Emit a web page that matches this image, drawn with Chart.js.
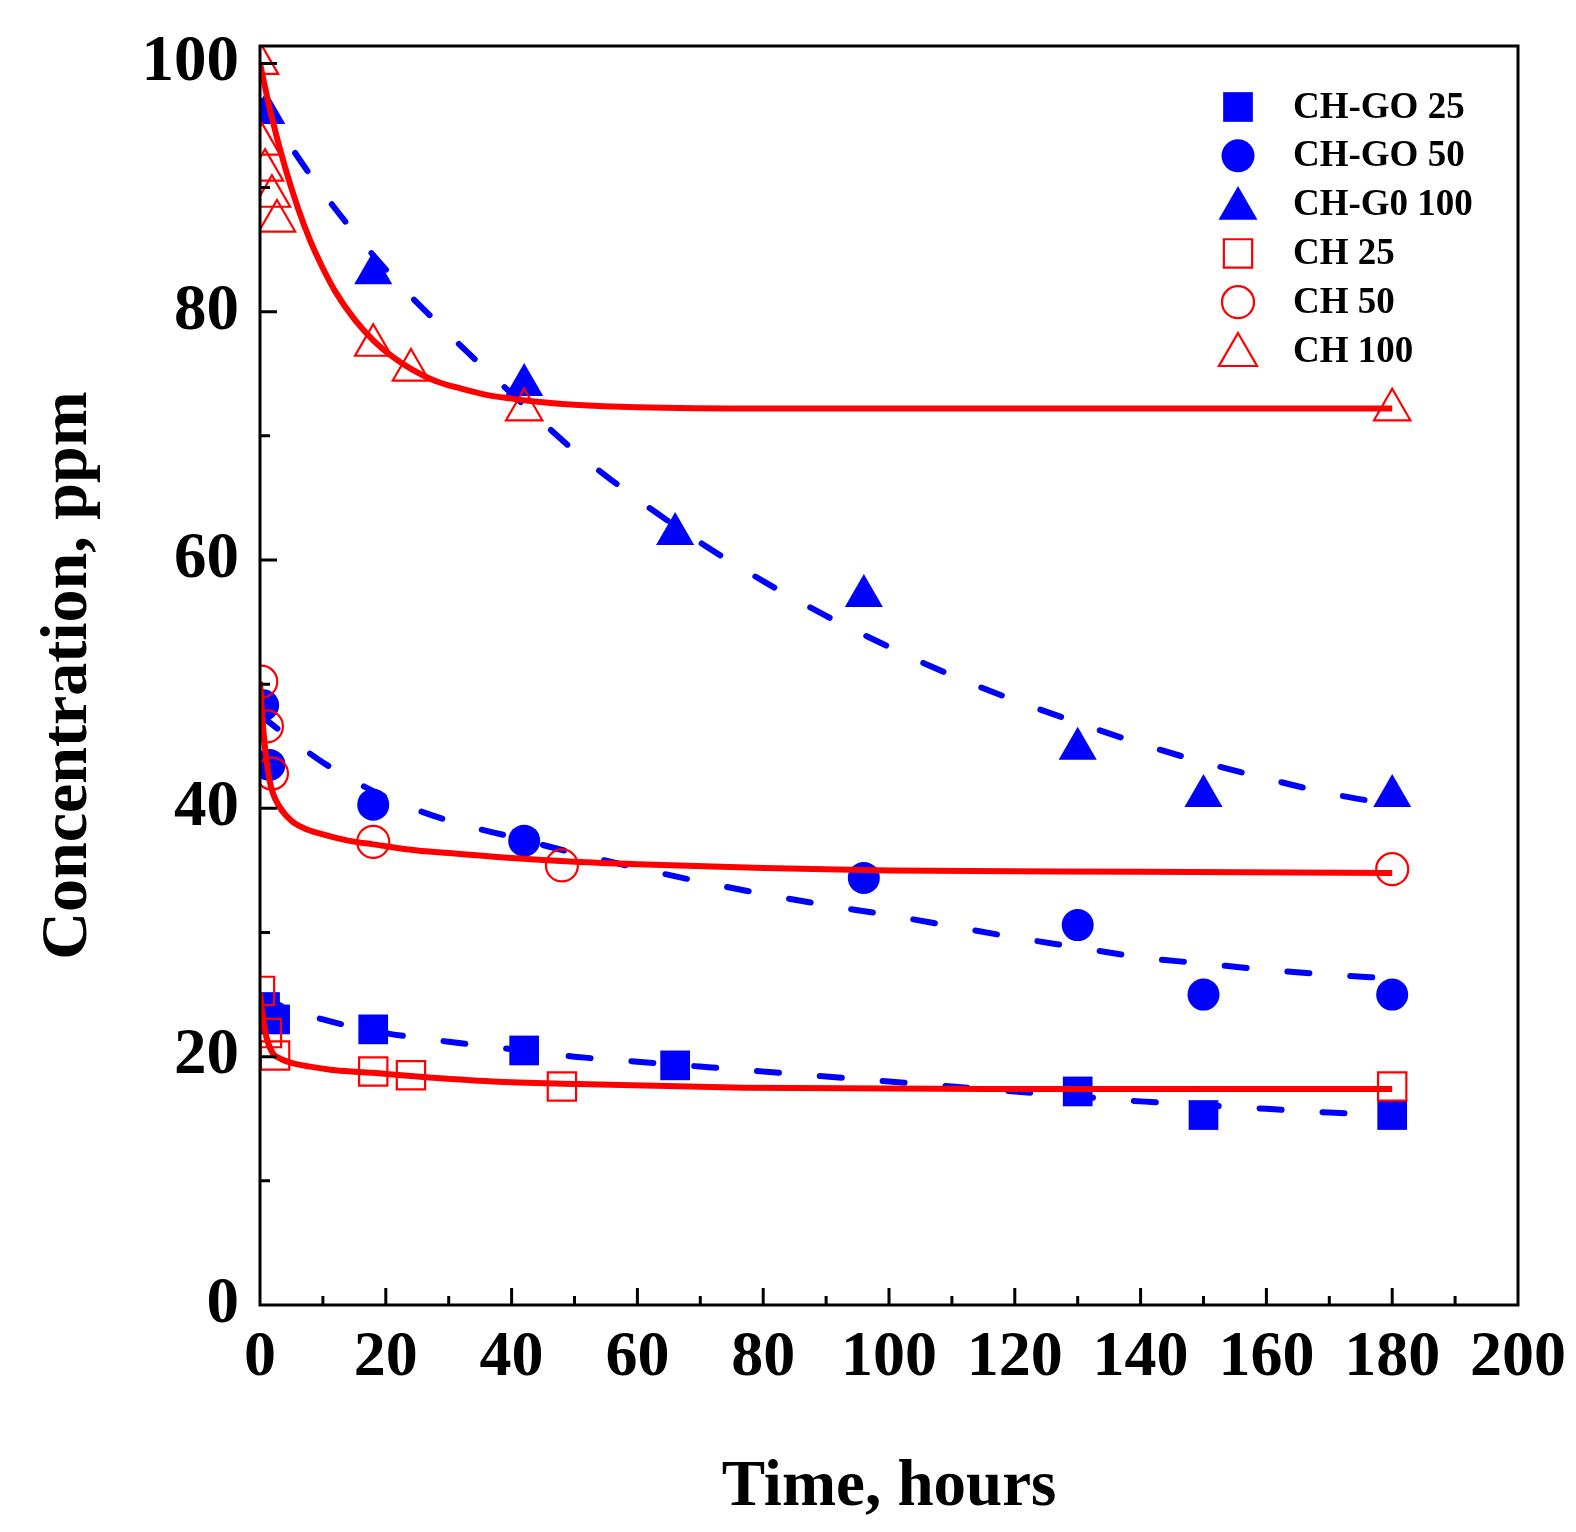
<!DOCTYPE html>
<html><head><meta charset="utf-8">
<script src="https://cdn.jsdelivr.net/npm/chart.js@4.4.1/dist/chart.umd.min.js"></script>
<style>html,body{margin:0;padding:0;background:#fff;}canvas{display:block;}</style>
</head><body>
<canvas id="c" width="1576" height="1532" style="width:1576px;height:1532px"></canvas>
<script>
// ---------- tick labels / categories ----------
const xTicks = [0, 20, 40, 60, 80, 100, 120, 140, 160, 180, 200];
const yTicks = [0, 20, 40, 60, 80, 100];
const seriesLabels = ['CH-GO 25', 'CH-GO 50', 'CH-G0 100', 'CH 25', 'CH 50', 'CH 100'];
const xTitle = 'Time, hours';
const yTitle = 'Concentration, ppm';

// ---------- measured points ----------
const chgo25Time  = [0.8, 2.4, 18, 42, 66, 130, 150, 180];
const chgo25Conc  = [24.0, 23.0, 22.2, 20.5, 19.3, 17.2, 15.3, 15.3];
const chgo50Time  = [0.5, 1.5, 18, 42, 96, 130, 150, 180];
const chgo50Conc  = [48.3, 43.5, 40.3, 37.4, 34.4, 30.6, 25.0, 25.0];
const chgo100Time = [1, 18, 42, 66, 96, 130, 150, 180];
const chgo100Conc = [96.0, 83.1, 74.1, 62.1, 57.1, 44.8, 41.0, 41.0];
const ch25Time    = [0, 1.1, 2.4, 18, 24, 48, 180];
const ch25Conc    = [25.3, 21.9, 20.1, 18.8, 18.5, 17.6, 17.6];
const ch50Time    = [0.2, 1.1, 1.9, 18, 48, 180];
const ch50Conc    = [50.2, 46.6, 42.8, 37.3, 35.4, 35.1];
const ch100Time   = [0, 0.3, 0.8, 1.9, 2.7, 18, 24, 42, 180];
const ch100Conc   = [100, 93.5, 91.4, 89.3, 87.3, 77.3, 75.3, 72.1, 72.1];

// ---------- fitted curves ----------
const goFitTime   = [0, 10, 20, 30, 40, 50, 60, 70, 80, 90, 100, 110, 120, 130, 140, 150, 160, 170, 180];
const chgo25Fit   = [24.7, 23.0, 21.9, 21.2, 20.6, 20.0, 19.6, 19.2, 18.8, 18.4, 18.0, 17.6, 17.2, 16.8, 16.4, 16.1, 15.8, 15.5, 15.3];
const chgo50Fit   = [47.5, 43.7, 40.9, 39.0, 37.7, 36.4, 35.2, 34.1, 33.1, 32.2, 31.4, 30.5, 29.6, 28.8, 28.0, 27.5, 27.0, 26.6, 26.3];
const chgo100Fit  = [97.0, 89.6, 83.4, 78.2, 73.4, 68.8, 64.9, 61.4, 58.3, 55.5, 53.0, 50.7, 48.7, 46.9, 45.2, 43.7, 42.4, 41.2, 40.3];
const ch25FitTime = [0, 0.5, 1, 2, 3, 5, 8, 12, 18, 25, 37, 50, 77, 120, 180];
const ch25Fit     = [25.1, 23.0, 21.6, 20.3, 19.9, 19.5, 19.2, 18.9, 18.7, 18.4, 18.0, 17.8, 17.5, 17.4, 17.4];
const ch50FitTime = [0, 0.5, 1, 1.5, 2, 3, 5, 7, 10, 14, 18, 25, 30, 40, 50, 60, 80, 100, 140, 180];
const ch50Fit     = [50.2, 46.5, 44.0, 42.3, 41.3, 40.2, 39.0, 38.4, 37.9, 37.4, 37.1, 36.6, 36.4, 36.0, 35.7, 35.5, 35.2, 35.0, 34.9, 34.8];
const ch100FitTime= [0, 1, 2, 4, 6, 8, 10, 12, 15, 18, 21, 24, 28, 32, 36, 40, 45, 50, 60, 80, 180];
const ch100Fit    = [100, 97.6, 95.4, 91.6, 88.4, 85.7, 83.5, 81.6, 79.4, 77.7, 76.4, 75.4, 74.4, 73.8, 73.3, 73.0, 72.7, 72.5, 72.3, 72.2, 72.2];

// ---------- styling ----------
const BLUE = '#0000ff', RED = '#ff0000';
const FONT = "'Liberation Serif', 'Times New Roman', serif";
const pts = (xs, ys) => xs.map((x, i) => ({x, y: ys[i]}));

function markerSet(label, xs, ys, style, filled, color, r, order) {
  return {
    label, data: pts(xs, ys), showLine: false, order,
    pointStyle: style, pointRadius: r, pointHoverRadius: r,
    pointBackgroundColor: filled ? color : 'rgba(0,0,0,0)',
    pointBorderColor: color, pointBorderWidth: filled ? 0 : 2.2,
    clip: 1
  };
}
function fitSet(xs, ys, color, dashed, order) {
  return {
    label: '_fit', data: pts(xs, ys), showLine: true, order,
    borderColor: color, borderWidth: 6, borderDash: dashed ? [22, 41] : [],
    borderCapStyle: dashed ? 'round' : 'butt', borderJoinStyle: 'round',
    cubicInterpolationMode: 'monotone', pointRadius: 0, fill: false, clip: 1
  };
}

const datasets = [
  markerSet(seriesLabels[0], chgo25Time, chgo25Conc, 'rect', true, BLUE, 21, 4),
  markerSet(seriesLabels[1], chgo50Time, chgo50Conc, 'circle', true, BLUE, 16, 4),
  markerSet(seriesLabels[2], chgo100Time, chgo100Conc, 'triangle', true, BLUE, 22, 4),
  fitSet(goFitTime, chgo25Fit, BLUE, true, 3),
  fitSet(goFitTime, chgo50Fit, BLUE, true, 3),
  fitSet(goFitTime, chgo100Fit, BLUE, true, 3),
  markerSet(seriesLabels[3], ch25Time, ch25Conc, 'rect', false, RED, 20, 2),
  markerSet(seriesLabels[4], ch50Time, ch50Conc, 'circle', false, RED, 16, 2),
  markerSet(seriesLabels[5], ch100Time, ch100Conc, 'triangle', false, RED, 21, 2),
  fitSet(ch25FitTime, ch25Fit, RED, false, 1),
  fitSet(ch50FitTime, ch50Fit, RED, false, 1),
  fitSet(ch100FitTime, ch100Fit, RED, false, 1)
];

const legendItems = [
  {style: 'rect', filled: true, color: BLUE, r: 21},
  {style: 'circle', filled: true, color: BLUE, r: 16.5},
  {style: 'triangle', filled: true, color: BLUE, r: 22.5},
  {style: 'rect', filled: false, color: RED, r: 20},
  {style: 'circle', filled: false, color: RED, r: 16},
  {style: 'triangle', filled: false, color: RED, r: 22}
];

function drawMarker(ctx, style, x, y, r, filled, color) {
  ctx.beginPath();
  if (style === 'rect') {
    const s = r * Math.SQRT1_2;
    ctx.rect(x - s, y - s, 2 * s, 2 * s);
  } else if (style === 'circle') {
    ctx.arc(x, y, r, 0, Math.PI * 2);
  } else {
    ctx.moveTo(x, y - r);
    ctx.lineTo(x + r * Math.sin(Math.PI / 3), y + r * 0.5);
    ctx.lineTo(x - r * Math.sin(Math.PI / 3), y + r * 0.5);
    ctx.closePath();
  }
  if (filled) { ctx.fillStyle = color; ctx.fill(); }
  else { ctx.strokeStyle = color; ctx.lineWidth = 2.2; ctx.stroke(); }
}

const framePlugin = {
  id: 'frameTicksLegend',
  afterDraw(chart) {
    const {ctx, chartArea: a, scales: {x, y}} = chart;
    ctx.save();
    ctx.strokeStyle = '#000';
    ctx.lineWidth = 3;
    ctx.lineCap = 'butt';
    ctx.beginPath();
    for (let i = 0; i < xTicks.length; i++) {
      const px = x.getPixelForValue(xTicks[i]);
      if (i > 0 && i < xTicks.length - 1) { ctx.moveTo(px, a.bottom); ctx.lineTo(px, a.bottom - 17); }
      if (i < xTicks.length - 1) {
        const mx = x.getPixelForValue((xTicks[i] + xTicks[i + 1]) / 2);
        ctx.moveTo(mx, a.bottom); ctx.lineTo(mx, a.bottom - 9);
      }
    }
    for (let i = 0; i < yTicks.length; i++) {
      const py = y.getPixelForValue(yTicks[i]);
      if (i > 0) { ctx.moveTo(a.left, py); ctx.lineTo(a.left + 17, py); }
      if (i < yTicks.length - 1) {
        const my = y.getPixelForValue((yTicks[i] + yTicks[i + 1]) / 2);
        ctx.moveTo(a.left, my); ctx.lineTo(a.left + 10, my);
      }
    }
    ctx.stroke();
    ctx.strokeRect(a.left, a.top, a.right - a.left, a.bottom - a.top);

    // legend
    const mx = a.left + 978, tx = a.left + 1033;
    let ly = a.top + 61;
    ctx.font = `bold 37px ${FONT}`;
    ctx.textBaseline = 'middle';
    ctx.textAlign = 'left';
    legendItems.forEach((it, i) => {
      drawMarker(ctx, it.style, mx, ly + (it.style === 'triangle' ? 4 : 0), it.r, it.filled, it.color);
      ctx.fillStyle = '#000';
      ctx.fillText(seriesLabels[i], tx, ly + 1);
      ly += 48.8;
    });
    ctx.restore();
  }
};

new Chart(document.getElementById('c'), {
  type: 'scatter',
  data: {datasets},
  options: {
    responsive: false, animation: false, devicePixelRatio: 1,
    layout: {padding: {top: 46, right: 58, left: 0, bottom: 0}},
    plugins: {legend: {display: false}, tooltip: {enabled: false}},
    scales: {
      x: {
        type: 'linear', min: 0, max: 200,
        afterBuildTicks: s => { s.ticks = xTicks.map(v => ({value: v})); },
        afterFit: s => { s.height = 227; s.paddingLeft = 0; s.paddingRight = 0; },
        grid: {display: false, drawTicks: false},
        border: {display: false},
        ticks: {padding: 15, color: '#000', maxRotation: 0, autoSkip: false,
                font: {family: FONT, weight: 'bold', size: 64}},
        title: {display: true, text: xTitle, color: '#000', padding: {top: 0, bottom: 5},
                font: {family: FONT, weight: 'bold', size: 65}}
      },
      y: {
        type: 'linear', min: 0, max: 101.4,
        afterBuildTicks: s => { s.ticks = yTicks.map(v => ({value: v})); },
        afterFit: s => { s.width = 260; s.paddingTop = 0; s.paddingBottom = 0; },
        grid: {display: false, drawTicks: false},
        border: {display: false},
        ticks: {padding: 21, color: '#000', autoSkip: false,
                font: {family: FONT, weight: 'bold', size: 65}},
        title: {display: true, text: yTitle, color: '#000', padding: {top: 29, bottom: 0},
                font: {family: FONT, weight: 'bold', size: 66}}
      }
    }
  },
  plugins: [framePlugin]
});
</script>
</body></html>
